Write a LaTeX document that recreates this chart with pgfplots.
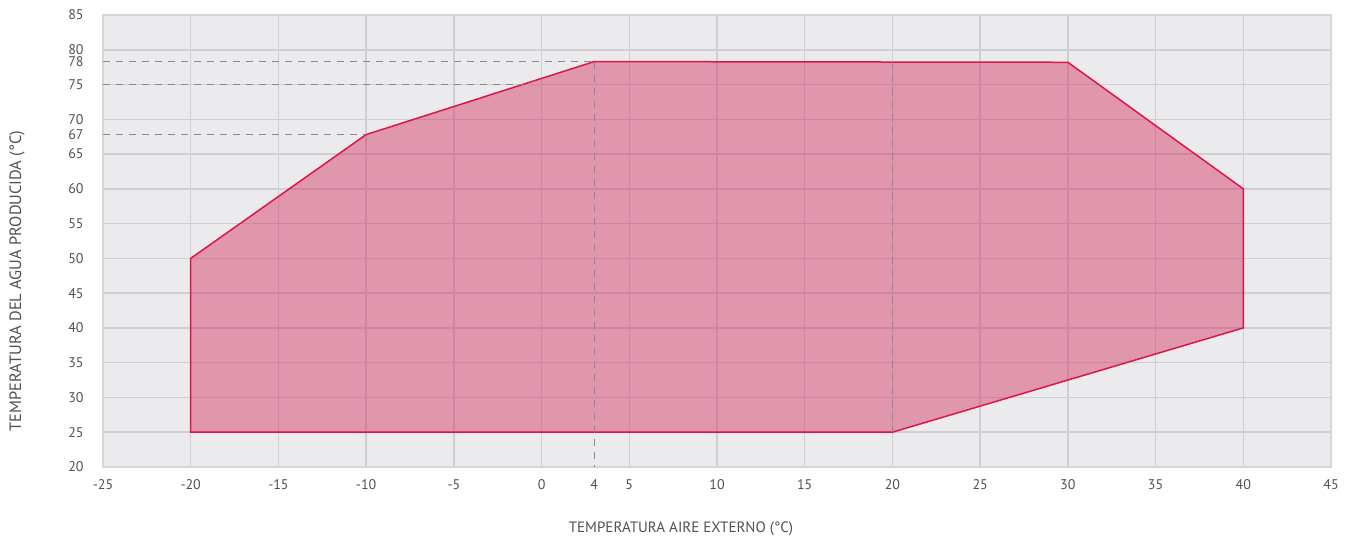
\documentclass[border=0pt]{standalone}
\usepackage{pgfplots}
\pgfplotsset{compat=1.18}
\usepackage{fontspec}
\setmainfont{PT Sans}

\definecolor{bgc}{RGB}{235,235,237}
\definecolor{gridc}{RGB}{207,207,211}
\definecolor{framec}{RGB}{214,214,218}
\definecolor{fillc}{RGB}{210,40,90}
\definecolor{linec}{RGB}{222,22,72}
\definecolor{dashc}{RGB}{138,138,140}
\definecolor{txtc}{RGB}{80,80,82}

\begin{document}
\begin{tikzpicture}
\begin{axis}[
    name=ax,
    scale only axis,
    width=614pt,
    height=226pt,
    xmin=-25, xmax=45,
    ymin=20, ymax=85,
    xtick={-25,-20,...,45},
    ytick={20,25,...,85},
    extra x ticks={3},
    extra x tick labels={4},
    extra y ticks={67.8,78.3},
    extra y tick labels={67,78},
    extra tick style={grid=none},
    major tick length=0pt,
    grid=major,
    major grid style={gridc, line width=0.75pt},
    axis line style={framec, line width=1pt},
    axis background/.style={fill=bgc},
    /pgf/number format/assume math mode=true,
    tick label style={font=\fontsize{7}{8}\selectfont, text=txtc, inner sep=0pt},
    yticklabel style={anchor=east, xshift=-9.5pt},
    xticklabel style={anchor=north, yshift=-6pt},
    xlabel={TEMPERATURA AIRE EXTERNO (°C)},
    ylabel={TEMPERATURA DEL AGUA PRODUCIDA (°C)},
    label style={text=txtc},
    xlabel style={font=\fontsize{7.5}{9}\selectfont, at={(axis description cs:0.4707,-0.137)}, anchor=center},
    ylabel style={font=\fontsize{8.2}{9}\selectfont, at={(axis description cs:-0.07,0.4115)}, anchor=center},
]
% operating envelope
\addplot[draw=linec, line width=0.75pt, fill=fillc, fill opacity=0.43] coordinates {
    (-20,25) (-20,50) (-10,67.8) (3,78.3) (30,78.2) (40,60) (40,40) (20,25)
} -- cycle;
% reference lines
\addplot[dashc, line width=0.6pt, dash pattern=on 3.5pt off 3pt] coordinates {(-25,78.3) (3,78.3)};
\addplot[dashc, line width=0.6pt, dash pattern=on 3.5pt off 3pt] coordinates {(-25,75) (-1.08,75)};
\addplot[dashc, line width=0.6pt, dash pattern=on 3.5pt off 3pt] coordinates {(-25,67.8) (-10,67.8)};
\addplot[dashc, line width=0.6pt, dash pattern=on 3.5pt off 3pt] coordinates {(3,78.3) (3,20)};
\addplot[dashc, line width=0.6pt, dash pattern=on 3.5pt off 3pt] coordinates {(20,78.25) (20,25)};
\end{axis}
\pgfresetboundingbox
\path ([shift={(-51.5pt,-35pt)}]ax.south west) rectangle ([shift={(9pt,7.5pt)}]ax.north east);
\end{tikzpicture}
\end{document}
